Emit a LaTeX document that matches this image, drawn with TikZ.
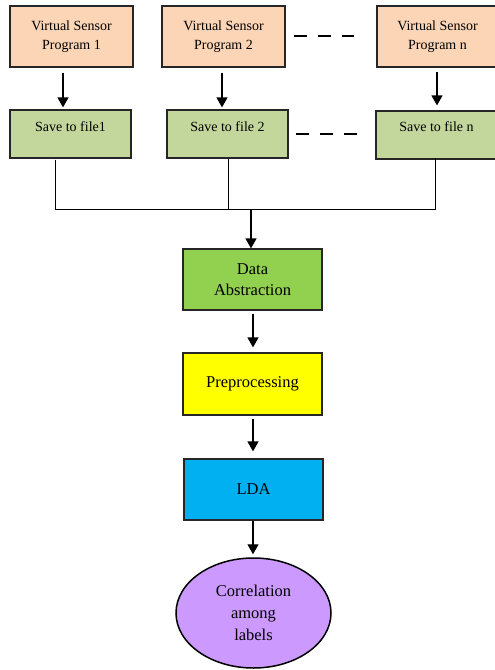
\documentclass[tikz,border=0pt]{standalone}
\usepackage{fontspec}
\setmainfont{Liberation Serif}
\usetikzlibrary{arrows.meta,shapes.geometric}
\definecolor{peach}{HTML}{FBD5B5}
\definecolor{sage}{HTML}{C3D69B}
\definecolor{lgreen}{HTML}{92D050}
\definecolor{yel}{HTML}{FFFF00}
\definecolor{cyanb}{HTML}{00B0F0}
\definecolor{lilac}{HTML}{CC99FF}
\tikzset{
  box/.style={draw=black!85, line width=1.2pt, rectangle, inner sep=0pt, align=center, font=\fontsize{14}{19}\selectfont},
  vsp/.style={box, fill=peach, minimum width=123pt, minimum height=61pt},
  sav/.style={box, fill=sage, minimum width=121pt, text height=21.5pt, text depth=26.5pt},
  mid/.style={box, minimum width=139pt, minimum height=61pt, font=\fontsize{16.5}{21}\selectfont},
  arr/.style={line width=1.3pt, -{Triangle[length=10pt,width=11pt]}},
  lin/.style={line width=1pt},
  dsh/.style={line width=1.4pt, dash pattern=on 13pt off 11pt}
}
\begin{document}
\begin{tikzpicture}[x=1pt,y=-1pt]
\useasboundingbox (0,0) rectangle (495,670);
\node[vsp] (v1) at (71.5,36.5) {Virtual Sensor\\Program 1};
\node[vsp] (v2) at (223.5,36.5) {Virtual Sensor\\Program 2};
\node[vsp, minimum width=121pt] (vn) at (437.5,36.5) {Virtual Sensor\\Program n};
\node[sav] (s1) at (70.5,134) {Save to file1};
\node[sav] (s2) at (227.5,134) {Save to file 2};
\node[sav, text height=20.5pt, text depth=27.5pt] (sn) at (436.5,135) {Save to file n};
\node[mid, fill=lgreen] (da) at (252.5,279.5) {Data\\Abstraction};
\node[mid, fill=yel, minimum height=62pt] (pre) at (252.5,384) {Preprocessing};
\node[mid, fill=cyanb] (lda) at (253.5,489.5) {LDA};
\node[draw=black, line width=1.5pt, ellipse, fill=lilac, minimum width=155pt, minimum height=110pt, inner sep=0pt, align=center, font=\fontsize{16.5}{22}\selectfont] (cor) at (253.5,613) {Correlation\\among\\labels};
\coordinate (j) at (251,209);
% arrows from programs to files
\draw[arr] ([xshift=-8.5,yshift=-5]v1.south) -- ([xshift=-7.5,yshift=2]s1.north);
\draw[arr] ([xshift=-1.5,yshift=-5]v2.south) -- ([xshift=-5.5,yshift=2]s2.north);
\draw[arr] ([xshift=-0.5,yshift=-4]vn.south) -- ([xshift=0.5,yshift=5]sn.north);
% dashes
\draw[dsh] ([xshift=8,yshift=0.5]v2.east) -- ([xshift=-22,yshift=0.5]vn.west);
\draw[dsh] ([xshift=7]s2.east) -- ([xshift=-16]sn.west |- s2.east);
% merge lines
\draw[lin] ([xshift=-15.5,yshift=-1]s1.south) |- (j);
\draw[lin] (j) -| ([xshift=-1.5,yshift=2]sn.south);
\draw[lin] ([xshift=0.5]s2.south) -- ([xshift=0.5]s2.south |- j);
\draw[arr] (j) -- ([xshift=-1.5]da.north);
% chain
\draw[arr] ([xshift=0.5,yshift=-3]da.south) -- ([xshift=0.5,yshift=5]pre.north);
\draw[arr] ([xshift=0.5,yshift=-3]pre.south) -- ([xshift=-0.5,yshift=7]lda.north);
\draw[arr] ([xshift=-0.5]lda.south) -- ([xshift=-0.5,yshift=3]cor.north);
\end{tikzpicture}
\end{document}
